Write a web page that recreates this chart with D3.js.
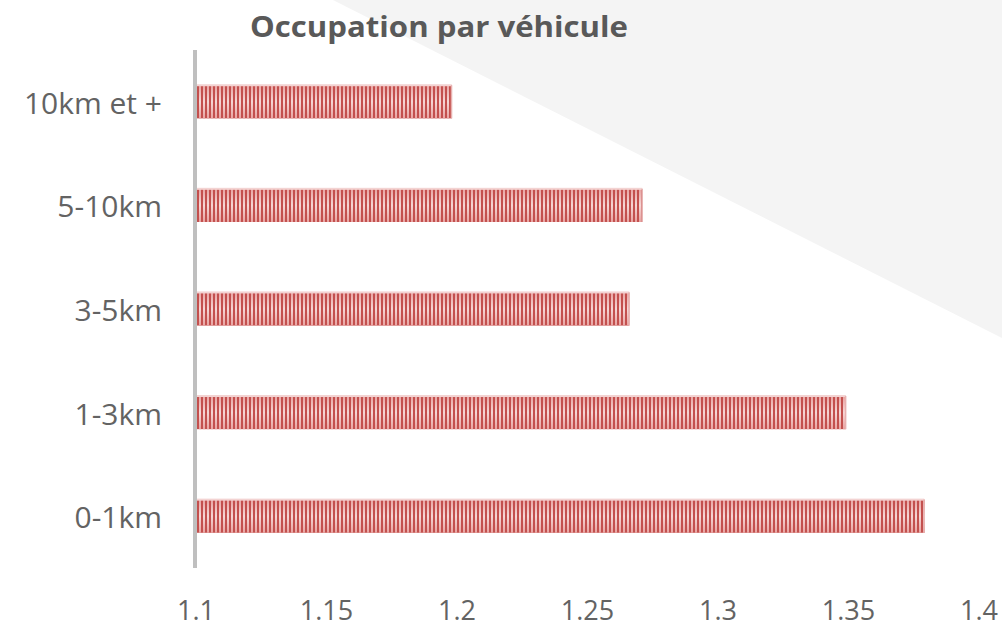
<!DOCTYPE html>
<html>
<head>
<meta charset="utf-8">
<script src="https://cdn.jsdelivr.net/npm/d3@7"></script>
<style>
  body { margin: 0; background: #fff; }
  svg { display: block; }
</style>
</head>
<body>
<div id="chart"></div>
<script>
// data
const categories = ['10km et +', '5-10km', '3-5km', '1-3km', '0-1km'];
const occupation = [1.198, 1.271, 1.266, 1.349, 1.379];
const xTicks = [1.1, 1.15, 1.2, 1.25, 1.3, 1.35, 1.4];
const title = 'Occupation par véhicule';

const width = 1002;
const height = 628;

const svg = d3.select('#chart')
  .append('svg')
    .attr('width', width)
    .attr('height', height);

// light gray triangle in the top right corner
svg.append('polygon')
  .attr('points', '333,0 1002,0 1002,338')
  .attr('fill', '#f4f4f4');

// gradient used for the light stripes of the bars
const defs = svg.append('defs');
const grad = defs.append('linearGradient')
  .attr('id', 'stripeGrad')
  .attr('x1', 0).attr('y1', 0).attr('x2', 0).attr('y2', 1);
grad.append('stop').attr('offset', '0%').attr('stop-color', '#e8a3a1');
grad.append('stop').attr('offset', '50%').attr('stop-color', '#f6d6d5');
grad.append('stop').attr('offset', '100%').attr('stop-color', '#e8a3a1');

const x = d3.scaleLinear()
  .domain([1.1, 1.4])
  .range([196, 979]);

const y = d3.scaleBand()
  .domain(categories)
  .range([50, 568])
  .paddingInner(0.68)
  .paddingOuter(0.34);

// bars
const bars = svg.append('g');
categories.forEach((c, i) => {
  const bx = x(1.1) + 1;
  const bw = x(occupation[i]) - bx;
  const by = y(c);
  const bh = y.bandwidth();
  bars.append('rect')
    .attr('x', bx).attr('y', by)
    .attr('width', bw).attr('height', bh)
    .attr('fill', '#c3504e');
  // light stripes
  const g = bars.append('g');
  for (let sx = bx + 2; sx < bx + bw - 1; sx += 4) {
    g.append('rect')
      .attr('x', sx).attr('y', by)
      .attr('width', 2).attr('height', bh)
      .attr('fill', 'url(#stripeGrad)');
  }
  // pale top edge
  bars.append('rect')
    .attr('x', bx).attr('y', by - 1)
    .attr('width', bw).attr('height', 2)
    .attr('fill', '#f3d3d2');
  bars.append('rect')
    .attr('x', bx + bw - 1).attr('y', by)
    .attr('width', 1.5).attr('height', bh)
    .attr('fill', '#e7b0af');
});

// vertical axis line
svg.append('line')
  .attr('x1', 195).attr('x2', 195)
  .attr('y1', 50).attr('y2', 568)
  .attr('stroke', '#bfbfbf')
  .attr('stroke-width', 4);

// category labels
svg.append('g')
  .selectAll('text')
  .data(categories)
  .join('text')
    .attr('x', 162)
    .attr('y', d => y(d) + y.bandwidth() / 2 + 12)
    .attr('text-anchor', 'end')
    .style('font-family', '"Open Sans", sans-serif')
    .style('font-size', '30px')
    .style('fill', '#636363')
    .text(d => d);

// x tick labels
svg.append('g')
  .selectAll('text')
  .data(xTicks)
  .join('text')
    .attr('x', d => x(d))
    .attr('y', 620)
    .attr('text-anchor', 'middle')
    .style('font-family', '"Open Sans", sans-serif')
    .style('font-size', '27px')
    .style('fill', '#636363')
    .text(d => d3.format('')(d));

// title
svg.append('text')
  .attr('x', 439)
  .attr('y', 37)
  .attr('text-anchor', 'middle')
  .attr('textLength', 378)
  .attr('lengthAdjust', 'spacingAndGlyphs')
  .style('font-family', '"Open Sans", sans-serif')
  .style('font-weight', 'bold')
  .style('font-size', '29px')
  .style('fill', '#595959')
  .text(title);
</script>
</body>
</html>
